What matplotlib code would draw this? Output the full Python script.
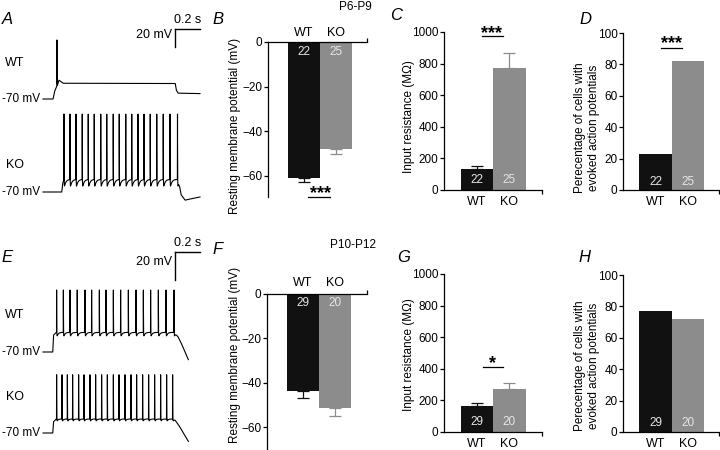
import numpy as np
import matplotlib
matplotlib.use('Agg')
import matplotlib.pyplot as plt

plt.rcParams['font.family'] = ['Liberation Sans', 'DejaVu Sans']
plt.rcParams['font.size'] = 8.5
plt.rcParams['axes.linewidth'] = 0.9

W, H = 720, 450

groups = ['WT', 'KO']
colors = ['#111111', '#8c8c8c']

# P6-P9 (top row)
rmp_p6 = [-61.0, -47.8]
rmp_p6_err = [1.6, 2.2]
rin_p6 = [135, 775]
rin_p6_err = [15, 95]
pct_p6 = [23, 82]
n_p6 = [22, 25]

# P10-P12 (bottom row)
rmp_p10 = [-43.6, -51.3]
rmp_p10_err = [3.2, 3.6]
rin_p10 = [165, 272]
rin_p10_err = [20, 38]
pct_p10 = [77, 72]
n_p10 = [29, 20]

# example traces: spike times (ms) and subthreshold envelope (ms, mV)
a_wt_spikes = [112]
a_wt_env_t = [0, 80, 92, 104, 128, 160, 1058, 1066, 1080, 1256]
a_wt_env_v = [-70, -70, -62, -58, -49, -52.5, -52.8, -60, -63.5, -64]
a_ko_spikes = [168, 216, 264, 314, 362, 410, 462, 510, 562, 610,
               662, 710, 760, 808, 858, 910, 962, 1016, 1076]
a_ko_env_t = [0, 150, 158, 168, 1084, 1094, 1104, 1136, 1256]
a_ko_env_v = [-70, -70, -60, -56, -56, -62, -72, -79, -75.5]

e_wt_spikes = [109, 163, 216, 274, 336, 389, 451, 504, 563, 621,
               683, 744, 803, 861, 923, 984, 1048]
e_wt_env_t = [0, 78, 84, 105, 1052, 1060, 1080, 1110, 1163]
e_wt_env_v = [-70, -70, -58, -56, -56, -56.5, -59, -64.5, -75.5]
e_ko_spikes = [109, 152, 195, 237, 285, 328, 376, 421, 469, 515, 563,
               608, 656, 704, 749, 797, 845, 893, 941, 989, 1037]
e_ko_env_t = [0, 78, 84, 105, 1042, 1055, 1090, 1163]
e_ko_env_v = [-70, -70, -62, -60, -60, -60.5, -65, -76]

fig = plt.figure(figsize=(W / 100, H / 100), dpi=100)


def px_axes(x0, y0, x1, y1):
    return fig.add_axes([x0 / W, 1 - y1 / H, (x1 - x0) / W, (y1 - y0) / H])


def fig_text(x, y, s, **kw):
    fig.text(x / W, 1 - y / H, s, ha='center', va='center', **kw)


def build_trace(t, env_t, env_v, spikes, v_peak, ahp, tau_ahp):
    v = np.interp(t, env_t, env_v)
    for ts in spikes:
        dt = t - ts
        amp = v_peak - np.interp(ts, env_t, env_v)
        rise = (dt > -1.0) & (dt < 0)
        v[rise] += amp * (1 + dt[rise])
        fall = dt >= 0
        d = dt[fall]
        v[fall] += amp * np.exp(-d / 0.8) - ahp * np.exp(-d / tau_ahp) * (1 - np.exp(-d / 1.0))
    return v


def trace_axes(y0, y1, base_px, px_per_mv):
    ax = px_axes(43, y0, 203, y1)
    ax.set_xlim(0, 1280)
    ax.set_ylim(-70 + (base_px - y1) / px_per_mv, -70 + (base_px - y0) / px_per_mv)
    ax.axis('off')
    ax.patch.set_alpha(0)
    return ax


def draw_trace(ax, t_end, env_t, env_v, spikes, v_peak, ahp, tau):
    t = np.arange(0, t_end, 0.2)
    v = build_trace(t, env_t, env_v, spikes, v_peak, ahp, tau)
    ax.plot(t, v, color='black', lw=0.8, clip_on=False)
    ax.text(-20, -70, '-70 mV', ha='right', va='center', fontsize=8.5)


def scale_bar(ax, t0, v0, label_v_s, label_v_mv):
    ax.plot([t0, t0 + 200], [v0, v0], color='black', lw=1.0, clip_on=False)
    ax.plot([t0, t0], [v0, v0 - 20], color='black', lw=1.0, clip_on=False)
    ax.text(t0 + 104, label_v_s, '0.2 s', ha='center', va='center', fontsize=9)
    ax.text(t0 - 24, label_v_mv, '20 mV', ha='right', va='center', fontsize=9)


# ---- A ----
ax = trace_axes(15, 110, 99, 0.9)
draw_trace(ax, 1256, a_wt_env_t, a_wt_env_v, a_wt_spikes, -4.4, 3, 5)
scale_bar(ax, 1056, 7.8, 17.8, 1.1)
ax = trace_axes(105, 210, 192, 0.9)
draw_trace(ax, 1256, a_ko_env_t, a_ko_env_v, a_ko_spikes, 16.7, 11, 12)
fig_text(15, 63, 'WT', fontsize=9)
fig_text(15, 165, 'KO', fontsize=9)

# ---- E ----
ax = trace_axes(240, 365, 352, 1.4)
draw_trace(ax, 1163, e_wt_env_t, e_wt_env_v, e_wt_spikes, -25.7, 4, 10)
scale_bar(ax, 1056, 1.4, 7.9, -5.7)
ax = trace_axes(365, 450, 433, 1.4)
draw_trace(ax, 1163, e_ko_env_t, e_ko_env_v, e_ko_spikes, -28.4, 2.5, 8)
fig_text(15, 315, 'WT', fontsize=9)
fig_text(15, 397, 'KO', fontsize=9)


def bar_panel(rect, vals, errs, n, ylim, yticks, xlim, ylabel, lab_xy,
              n_y, top_axis=False, xpad=4):
    ax = px_axes(*rect)
    x = np.arange(len(groups))
    ax.bar(x, vals, width=1.0, color=colors, edgecolor='none')
    if errs is not None:
        for xi, v, e, c in zip(x, vals, errs, colors):
            yerr = [[0], [e]] if v > 0 else [[e], [0]]
            ax.errorbar([xi], [v], yerr=yerr, fmt='none', ecolor=c,
                        elinewidth=0.9, capsize=4.3, capthick=0.9, clip_on=False)
    for xi, k in zip(x, n):
        ax.text(xi, n_y, str(k), ha='center', va='center', color='#e6e6e6', fontsize=8.5)
    ax.set_xlim(*xlim)
    ax.set_ylim(*ylim)
    ax.set_yticks(yticks)
    ax.set_xticks(x)
    ax.set_xticklabels(groups, fontsize=9)
    ax.set_xticks([xlim[1]], minor=True)
    ax.spines['right'].set_visible(False)
    if top_axis:
        ax.spines['bottom'].set_visible(False)
        ax.xaxis.tick_top()
    else:
        ax.spines['top'].set_visible(False)
    ax.tick_params(axis='x', which='major', length=0, pad=xpad)
    ax.tick_params(axis='x', which='minor', length=3, width=0.9)
    ax.tick_params(axis='y', length=3, width=0.9, pad=1)
    ax.set_ylabel(ylabel, fontsize=8.5)
    ax.yaxis.set_label_coords(*lab_xy)
    ax.patch.set_alpha(0)
    return ax


def sig(ax, x0, x1, y_line, x_star, y_star, stars):
    ax.plot([x0, x1], [y_line, y_line], color='black', lw=0.9, clip_on=False)
    ax.text(x_star, y_star, stars, ha='center', va='baseline', fontsize=13,
            fontweight='bold', clip_on=False)


rmp_label = 'Resting membrane potential (mV)'
rin_label = 'Input resistance (M\u03a9)'
pct_label = 'Perecentage of cells with\nevoked action potentials'

# ---- B ----
ax = bar_panel((268, 42, 367, 197), rmp_p6, rmp_p6_err, n_p6, (-69.5, 0),
               [0, -20, -40, -60], (-1.11, 1.98), rmp_label, (-0.273, 0.458),
               -4.3, top_axis=True, xpad=2.5)
sig(ax, 0.14, 0.83, -69.3, 0.52, -69.8, '***')

# ---- C ----
ax = bar_panel((444, 32, 542, 190), rin_p6, rin_p6_err, n_p6, (0, 1000),
               [0, 200, 400, 600, 800, 1000], (-1.015, 2.0), rin_label,
               (-0.296, 0.462), 63)
sig(ax, 0.15, 0.8, 975, 0.46, 962, '***')

# ---- D ----
ax = bar_panel((623, 33, 719, 190), pct_p6, None, n_p6, (0, 100),
               [0, 20, 40, 60, 80, 100], (-1.0, 1.954), pct_label,
               (-0.24, 0.395), 5)
sig(ax, 0.17, 0.82, 90.3, 0.5, 90.4, '***')

# ---- F ----
ax = bar_panel((267, 294, 367, 450), rmp_p10, rmp_p10_err, n_p10, (-70.3, 0),
               [0, -20, -40, -60], (-1.11, 1.98), rmp_label, (-0.26, 0.61),
               -4.0, top_axis=True, xpad=3.5)

# ---- G ----
ax = bar_panel((444, 274, 542, 432), rin_p10, rin_p10_err, n_p10, (0, 1000),
               [0, 200, 400, 600, 800, 1000], (-1.015, 2.0), rin_label,
               (-0.296, 0.487), 65)
sig(ax, 0.18, 0.79, 413, 0.48, 405, '*')

# ---- H ----
ax = bar_panel((623, 275, 719, 432), pct_p10, None, n_p10, (0, 100),
               [0, 20, 40, 60, 80, 100], (-1.0, 1.954), pct_label,
               (-0.24, 0.42), 6)

# panel letters and age groups
for letter, (x, y) in zip('ABCDEFGH', [(7, 20), (218, 20), (396, 16), (585, 19),
                                        (7, 257), (218, 250), (404, 257), (584, 258)]):
    fig_text(x, y, letter, fontsize=12, style='italic')
fig_text(355, 7, 'P6-P9', fontsize=8.5)
fig_text(353, 245, 'P10-P12', fontsize=8.5)

fig.savefig('out.png', dpi=100)
